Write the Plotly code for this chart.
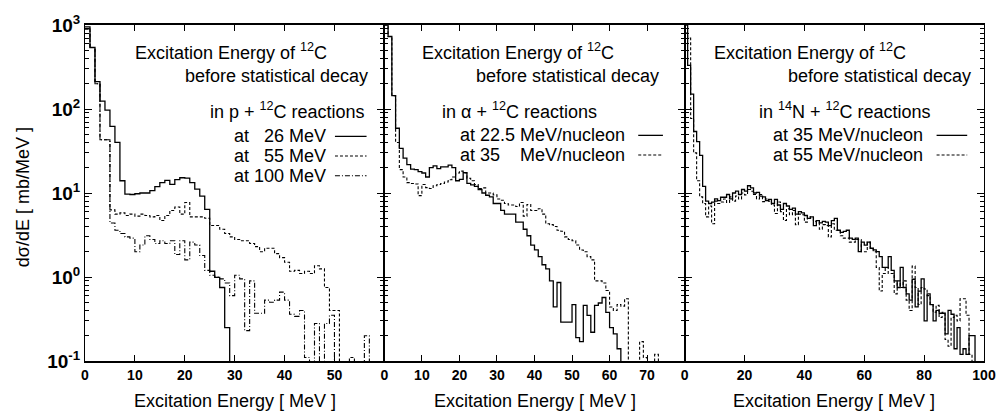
import plotly.graph_objects as go

# ---------------- data (1 MeV bins, values in mb/MeV) ----------------
# Panel 1: p + 12C
p1_26 = [950, 540, 212, 124, 97, 62, 40, 14, 9.7, 9.6, 9.8, 10, 10, 10.7, 11.9, 13.3, 14.1, 12.7,
         14.4, 15.2, 15.0, 13.3, 11.1, 9.2, 6.4, 1.17, 0.99, 0.75, 0.25, 0.01]
p1_55 = [900, 540, 200, 43, 43, 6.3, 5.6, 5.8, 5.4, 5.6, 5.3, 5.6, 5.4, 5.2, 5.4, 4.7, 5.4, 6.2,
         6.8, 5.6, 7.7, 5.2, 5.2, 5.2, 5.0, 4.1, 4.1, 3.7, 3.3, 3.0, 2.8, 2.7, 2.7, 2.5, 2.3, 2.0,
         2.2, 2.2, 1.9, 1.7, 1.5, 1.17, 1.2, 1.1, 1.17, 1.1, 1.36, 1.25, 0.75, 0.4, 0.4, 0.01,
         0.01, 0.11, 0.01]
p1_100 = [900, 540, 200, 43, 43, 4.4, 3.6, 3.3, 3.0, 2.9, 2.0, 2.4, 3.1, 2.8, 2.5, 2.7, 2.5, 2.7,
          1.85, 2.7, 1.6, 2.6, 2.4, 1.8, 1.2, 1.05, 1.0, 0.95, 0.85, 0.6, 1.05, 0.95, 0.23, 0.9,
          0.37, 0.37, 0.53, 0.5, 0.53, 0.66, 0.53, 0.36, 0.34, 0.4, 0.11, 0.01, 0.28, 0.01, 0.28,
          0.35, 0.01, 0.01, 0.01, 0.01, 0.01, 0.01, 0.2, 0.01]

# Panel 2: alpha + 12C
p2_225 = [1000, 730, 144, 59, 34, 26, 21.8, 19.2, 19, 18, 17.3, 15.5, 20, 21, 19.5, 20.5, 20.5,
          21.5, 20, 14, 14.5, 17.5, 13, 12.5, 12, 11, 10, 9.4, 9, 7.5, 7.5, 6.2, 5.6, 5.6, 5.6,
          4.5, 4.5, 3.7, 3.1, 2.4, 2.1, 1.75, 1.4, 1.25, 0.9, 0.44, 0.86, 0.29, 0.29, 0.29, 0.47,
          0.19, 0.17, 0.46, 0.35, 0.22, 0.46, 0.49, 0.57, 0.38, 0.25, 0.21, 0.14, 0.01]
p2_35 = [1000, 730, 144, 40, 19, 15.5, 13.3, 13, 12.8, 9.3, 12.6, 11.6, 11.3, 12.2, 12.6, 13, 13.5,
         14.4, 15.5, 17.3, 18.2, 17.3, 15, 14, 12.6, 11.3, 11.5, 10, 10, 9.5, 8.5, 8.2, 7.5, 7.2,
         7.2, 6.9, 7.7, 5.3, 7.3, 6.2, 6.2, 6.5, 5.6, 4.3, 4.2, 4.0, 3.6, 3.5, 3.0, 2.8, 2.7, 2.4,
         2.1, 2.0, 1.75, 1.6, 0.9, 0.9, 0.85, 0.69, 0.44, 0.4, 0.47, 0.45, 0.55, 0.01, 0.01, 0.01,
         0.17, 0.11, 0.01, 0.01, 0.12, 0.01]

# Panel 3: 14N + 12C
p3_35 = [1000, 330, 150, 54, 41, 28, 12, 8.0, 7.5, 7.8, 8.5, 8.1, 8.9, 8.9, 9.6, 8.5, 10.0, 10.5,
         9.6, 11.0, 10.5, 12.2, 11.5, 10.0, 10.2, 9.2, 9.0, 8.1, 8.4, 7.5, 8.4, 7.2, 6.4, 7.5, 7.0,
         6.4, 6.6, 5.6, 6.0, 5.8, 5.4, 5.0, 5.2, 4.1, 4.7, 4.4, 4.6, 4.5, 4.1, 4.7, 5.0, 3.6, 3.4,
         3.5, 3.6, 2.9, 2.8, 2.9, 2.0, 2.6, 2.4, 2.6, 2.2, 2.1, 2.0, 1.75, 1.3, 1.3, 1.75, 1.2, 0.9,
         0.75, 1.3, 0.75, 0.63, 0.53, 0.94, 0.44, 0.68, 0.95, 0.3, 0.63, 0.47, 0.3, 0.4, 0.37, 0.37,
         0.21, 0.4, 0.36, 0.14, 0.25, 0.12, 0.14, 0.12, 0.2, 0.2, 0.01]
p3_55 = [800, 700, 77, 30, 14, 9, 7.5, 5.2, 7, 4.3, 8, 7.5, 7.8, 8.5, 7.7, 9.0, 8.0, 9.2, 8.5, 10,
         9.5, 11, 10.5, 9.6, 8.5, 9.6, 7.9, 8.5, 8.0, 7.2, 5.7, 7.8, 6.0, 4.7, 6.5, 5.5, 6.2, 4.2,
         5.6, 5.5, 4.5, 5.2, 5.0, 4.6, 4.4, 3.7, 4.2, 4.1, 3.0, 4.3, 3.6, 3.6, 3.1, 2.9, 2.9, 2.6,
         2.6, 2.8, 2.8, 2.0, 2.0, 2.6, 2.2, 2.0, 1.3, 0.68, 1.1, 1.3, 1.1, 1.1, 0.63, 0.9, 0.75,
         0.9, 0.53, 0.40, 1.35, 0.75, 0.47, 0.75, 0.72, 0.6, 0.47, 0.38, 0.46, 0.33, 0.38, 0.18,
         0.15, 0.33, 0.35, 0.3, 0.55, 0.55, 0.35, 0.12, 0.01]

ytick_vals = [0.1, 1, 10, 100, 1000]
ytick_text = ["10<sup>-1</sup>", "10<sup>0</sup>", "10<sup>1</sup>", "10<sup>2</sup>", "10<sup>3</sup>"]
x1_ticks = [0, 10, 20, 30, 40, 50]
x2_ticks = [0, 10, 20, 30, 40, 50, 60, 70]
x3_ticks = [0, 20, 40, 60, 80, 100]

# ---------------- figure ----------------
W, H = 1008, 417
L, R, T, B = 85, 13, 20, 56
PW, PH = W - L - R, H - T - B
FONT = "Liberation Sans, Arial, Helvetica, sans-serif"

def px(x):
    return (x - L) / PW

def py(y):
    return (H - B - y) / PH

d1, d2 = px(388), px(692)

SOLID = dict(color="black", width=1.3)
DASH = dict(color="black", width=1.1, dash="3px,2px")
DASHDOT = dict(color="black", width=1.1, dash="5px,2px,1px,2px")

fig = go.Figure()

def add_hist(vals, line, xa, ya):
    xs = list(range(len(vals) + 1))
    ys = list(vals) + [vals[-1]]
    fig.add_trace(go.Scatter(x=xs, y=ys, mode="lines", line=dict(shape="hv", **line),
                             xaxis=xa, yaxis=ya, showlegend=False, hoverinfo="skip"))

add_hist(p1_100, DASHDOT, "x", "y")
add_hist(p1_55, DASH, "x", "y")
add_hist(p1_26, SOLID, "x", "y")
add_hist(p2_35, DASH, "x2", "y2")
add_hist(p2_225, SOLID, "x2", "y2")
add_hist(p3_55, DASH, "x3", "y3")
add_hist(p3_35, SOLID, "x3", "y3")

xcommon = dict(showgrid=False, zeroline=False, showline=True, linecolor="black", linewidth=1.5,
               mirror="ticks", ticks="inside", ticklen=6, tickwidth=1.2, tickcolor="black",
               tickfont=dict(family=FONT, size=14, color="black", weight="bold"))
ycommon = dict(type="log", range=[-1, 3], showgrid=False, zeroline=False, showline=True,
               linecolor="black", linewidth=1, mirror="ticks", ticks="inside", ticklen=7,
               tickwidth=1.2, tickcolor="black", tickvals=ytick_vals, ticktext=ytick_text,
               minor=dict(ticks="inside", ticklen=4, tickwidth=1, tickcolor="black", dtick="D1",
                          showgrid=False),
               tickfont=dict(family=FONT, size=19, color="black", weight="bold"), domain=[0, 1])

fig.update_layout(
    width=W, height=H, margin=dict(l=L, r=R, t=T, b=B),
    paper_bgcolor="white", plot_bgcolor="white",
    font=dict(family=FONT, color="black"),
    xaxis=dict(domain=[0, d1], range=[0, 60], anchor="y", tickvals=x1_ticks, **xcommon),
    xaxis2=dict(domain=[d1, d2], range=[0, 80], anchor="y2", tickvals=x2_ticks, **xcommon),
    xaxis3=dict(domain=[d2, 1], range=[0, 100], anchor="y3", tickvals=x3_ticks, **xcommon),
    yaxis=dict(anchor="x", showticklabels=True, **ycommon),
    yaxis2=dict(anchor="x2", showticklabels=False, **ycommon),
    yaxis3=dict(anchor="x3", showticklabels=False, **ycommon),
)

TXT = dict(family=FONT, size=18, color="black")
ann = []

def text(x, y, s, anchor="right"):
    ann.append(dict(x=px(x), y=py(y), xref="paper", yref="paper", text=s, showarrow=False,
                    xanchor=anchor, yanchor="middle", font=TXT))

def sample(x0, x1, y, line):
    fig.add_shape(type="line", xref="paper", yref="paper", x0=px(x0), x1=px(x1), y0=py(y), y1=py(y),
                  line=dict(color="black", width=line.get("width", 1.2), dash=line.get("dash", "solid")))

NB = "\u00a0"
# panel 1
text(332, 47, "Excitation Energy of <sup>12</sup>C")
text(373, 72, "before statistical decay")
text(370, 107, "in p + <sup>12</sup>C reactions")
text(331, 133, "at " + NB * 2 + "26 MeV")
text(331, 153, "at " + NB * 2 + "55 MeV")
text(331, 173, "at 100 MeV")
sample(338, 370, 133, SOLID)
sample(338, 370, 153, DASH)
sample(338, 370, 173, DASHDOT)
# panel 2
text(622, 47, "Excitation Energy of <sup>12</sup>C")
text(668, 72, "before statistical decay")
text(605, 107, "in \u03b1 + <sup>12</sup>C reactions")
text(634, 132, "at 22.5 MeV/nucleon")
text(634, 152, "at 35" + NB * 4 + "MeV/nucleon")
sample(645, 670, 132, SOLID)
sample(645, 670, 152, DASH)
# panel 3
text(918, 47, "Excitation Energy of <sup>12</sup>C")
text(984, 72, "before statistical decay")
text(943, 107, "in <sup>14</sup>N + <sup>12</sup>C reactions")
text(935, 132, "at 35 MeV/nucleon")
text(935, 152, "at 55 MeV/nucleon")
sample(947, 978, 132, SOLID)
sample(947, 978, 152, DASH)

# axis titles
for cx in (236.5, 540, 843.5):
    ann.append(dict(x=px(cx), y=py(402), xref="paper", yref="paper", text="Excitation Energy [ MeV ]",
                    showarrow=False, xanchor="center", yanchor="middle", font=TXT))
ann.append(dict(x=px(23), y=py(195), xref="paper", yref="paper", text="d\u03c3/dE [ mb/MeV ]",
                showarrow=False, textangle=-90, xanchor="center", yanchor="middle", font=TXT))

fig.update_layout(annotations=ann)
fig.write_html("out.html")
